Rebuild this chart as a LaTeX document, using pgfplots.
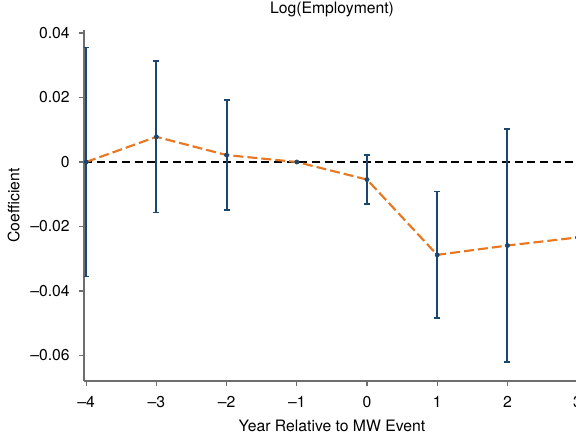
\documentclass[border=0pt]{standalone}
\usepackage{pgfplots}
\pgfplotsset{compat=1.18}
\usepackage{pgfplotstable}
\usepackage{fontspec}
\setmainfont{TeX Gyre Heros}
\definecolor{ciblue}{RGB}{26,71,111}
\definecolor{lineorange}{RGB}{232,119,34}
\definecolor{spinegray}{RGB}{110,110,110}

\pgfplotstableread{
x y ep em
-4 0 0.0355 0.0355
-3 0.0078 0.0235 0.0235
-2 0.00215 0.01705 0.01705
0 -0.00545 0.0076 0.0076
1 -0.0288 0.0196 0.0196
2 -0.0259 0.0361 0.0361
}\citable

\pgfplotstableread{
x y
-4 0
-3 0.0078
-2 0.00215
-1 0
0 -0.00545
1 -0.0288
2 -0.0259
3 -0.0234
}\pointtable

\begin{document}
\fontsize{11.8}{14}\selectfont
\begin{tikzpicture}
\begin{axis}[
  scale only axis,
  width=372pt, height=263.25pt,
  xmin=-4.031, xmax=3.034,
  ymin=-0.06791, ymax=0.04093,
  scaled y ticks=false, scaled x ticks=false,
  axis x line*=bottom, axis y line*=left,
  axis line style={spinegray, line width=1.1pt, -},
  tick style={spinegray, line width=0.9pt},
  tick align=outside,
  major tick length=3.75pt,
  xtick={-4,-3,-2,-1,0,1,2,3},
  xticklabels={\textendash4,\textendash3,\textendash2,\textendash1,0,1,2,3},
  ytick={-0.06,-0.04,-0.02,0,0.02,0.04},
  yticklabels={\textendash0.06,\textendash0.04,\textendash0.02,0,0.02,0.04},
  ticklabel style={font=\fontsize{11.8}{14}\selectfont, inner sep=0pt},
  xticklabel style={anchor=base, yshift=-16.5pt},
  yticklabel style={anchor=east, xshift=-6.75pt},
  title={Log(Employment)},
  title style={font=\fontsize{11.8}{14}\selectfont, anchor=base, at={(axis description cs:0.5,1)}, yshift=6pt, inner sep=0pt},
  xlabel={Year Relative to MW Event},
  xlabel style={font=\fontsize{11.8}{14}\selectfont, anchor=base, at={(axis description cs:0.5,0)}, yshift=-38pt, inner sep=0pt},
  ylabel={Coefficient},
  ylabel style={font=\fontsize{11.8}{14}\selectfont, rotate=0, anchor=base, at={([xshift=-48.4pt]axis description cs:0,0.5)}, inner sep=0pt},
]
\addplot[black, line width=1pt, dash pattern=on 6pt off 3.5pt] coordinates {(-4.031,0) (3.034,0)};
\addplot[lineorange, line width=1.6pt, dash pattern=on 7.5pt off 3pt] table[x=x,y=y] {\pointtable};
\addplot[ciblue, line width=1.5pt, draw=none, mark=none,
  error bars/.cd, y dir=both, y explicit,
  error bar style={ciblue, line width=1.5pt},
  error mark options={ciblue, rotate=90, mark size=2.25pt, line width=1.1pt}]
  table[x=x, y=y, y error plus=ep, y error minus=em] {\citable};
\addplot[only marks, mark=*, mark size=1.6pt, ciblue] table[x=x,y=y] {\pointtable};
\end{axis}
\pgfresetboundingbox
\useasboundingbox (-63pt,-40.5pt) rectangle (369pt,285.75pt);
\end{tikzpicture}
\end{document}
